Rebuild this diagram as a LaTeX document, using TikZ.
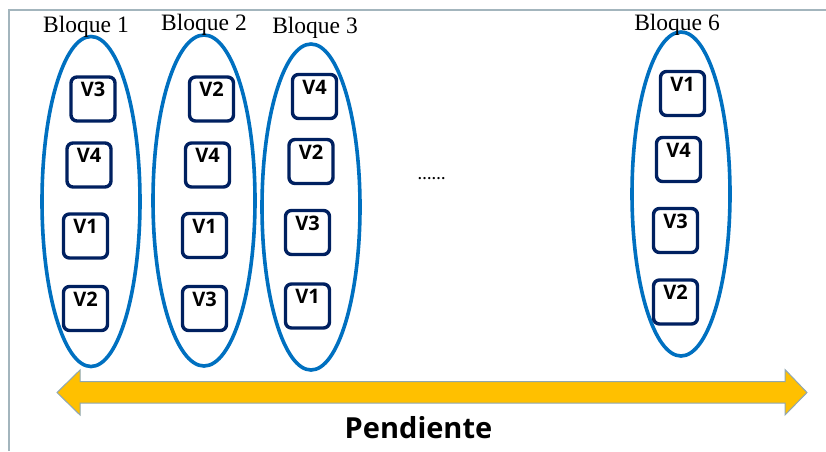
\documentclass[tikz,border=0pt]{standalone}
\usepackage{fontspec}
\setmainfont{Liberation Serif}
\newfontfamily\vfont{Open Sans}
\usetikzlibrary{shapes.geometric}
\definecolor{blockblue}{HTML}{0070C0}
\definecolor{boxnavy}{HTML}{002060}
\definecolor{framegray}{HTML}{A3B5BD}
\definecolor{arrowyellow}{HTML}{FFC000}
\definecolor{arrowedge}{HTML}{8FA7B3}
\tikzset{
  blockell/.style={ellipse, draw=blockblue, line width=3.6pt, inner sep=0pt},
  vbox/.style={draw=boxnavy, line width=3.4pt, rounded corners=6pt, minimum size=44pt, inner sep=0pt,
    font=\vfont\bfseries\fontsize{20}{20}\selectfont, text depth=19pt},
  blocktitle/.style={anchor=base, font=\fontsize{23.5}{25}\selectfont, inner sep=0pt},
}
\begin{document}
\begin{tikzpicture}[x=1pt,y=-1pt]
\useasboundingbox (0,0) rectangle (826,451);
% frame
\draw[framegray, line width=1.5pt] (9,451) -- (9,10) -- (826,10);
% ellipses
\node[blockell, minimum width=98pt, minimum height=330pt] (e1) at (91,201.5) {};
\node[blockell, minimum width=102pt, minimum height=331pt] (e2) at (204,200.5) {};
\node[blockell, minimum width=98pt, minimum height=326pt] (e3) at (311,207) {};
\node[blockell, minimum width=98pt, minimum height=324pt] (e6) at (681,194) {};
% titles
\node[blocktitle] (t1) at (86,32) {Bloque 1};
\node[blocktitle] (t2) at (204,30) {Bloque 2};
\node[blocktitle] (t3) at (315,33) {Bloque 3};
\node[blocktitle] (t6) at (677,30) {Bloque 6};
% block 1
\node[vbox] (b1a) at (93,99) {V3};
\node[vbox] (b1b) at (89,165) {V4};
\node[vbox] (b1c) at (85.5,236) {V1};
\node[vbox] (b1d) at (85.5,308.5) {V2};
% block 2
\node[vbox] (b2a) at (211.5,99) {V2};
\node[vbox] (b2b) at (207.5,165) {V4};
\node[vbox] (b2c) at (204.5,235.5) {V1};
\node[vbox] (b2d) at (204.5,308.5) {V3};
% block 3
\node[vbox] (b3a) at (314.5,96.5) {V4};
\node[vbox] (b3b) at (311,161.5) {V2};
\node[vbox] (b3c) at (307.5,232.5) {V3};
\node[vbox] (b3d) at (307.5,306) {V1};
% block 6
\node[vbox] (b6a) at (682.5,93.5) {V1};
\node[vbox] (b6b) at (678.5,159.5) {V4};
\node[vbox] (b6c) at (675.5,230.5) {V3};
\node[vbox] (b6d) at (675.5,302) {V2};
% dots
\node[anchor=base, font=\bfseries\fontsize{14}{14}\selectfont, inner sep=0pt] (dots) at (431.5,179) {……};
% double arrow
\draw[fill=arrowyellow, draw=arrowedge, line width=1pt, line join=miter]
  (57,392.5) -- (80,370) -- (80,381.5) -- (785,381.5) -- (785,369.5) -- (807,392.5)
  -- (785,415) -- (785,403) -- (80,403) -- (80,415) -- cycle;
\node[anchor=base, font=\vfont\bfseries\fontsize{29}{30}\selectfont, inner sep=0pt] (pend) at (418.5,438) {Pendiente};
\end{tikzpicture}
\end{document}
